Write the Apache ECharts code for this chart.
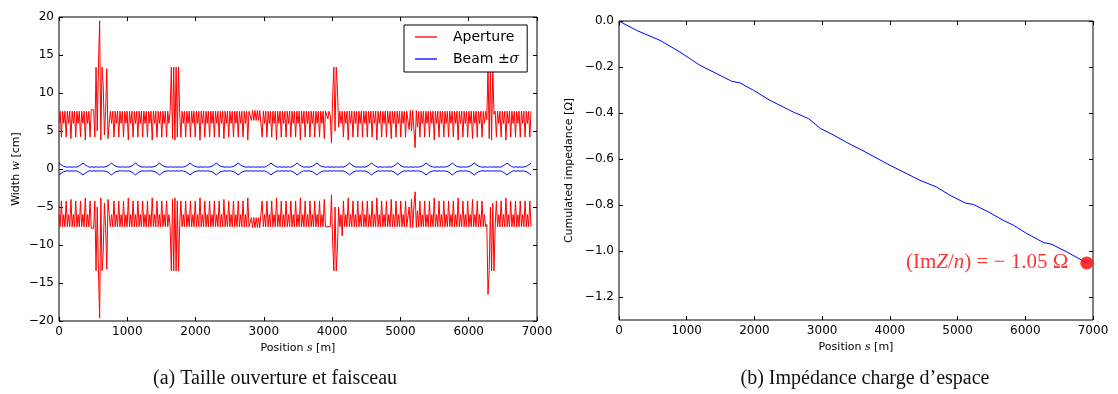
<!DOCTYPE html>
<html><head><meta charset="utf-8">
<script src="https://cdn.jsdelivr.net/npm/echarts@6/dist/echarts.min.js"></script>
<style>html,body{margin:0;padding:0;background:#fff}#c{width:1118px;height:394px}</style>
</head><body><div id="c"></div>
<script>
// ---------- data ----------
const apertureStep = 17.5; // m between aperture samples
const apertureUpper = [
  6.0,7.6,4.2,7.6, 6.0,7.6,4.2,7.6, 6.0,7.6,4.0,7.6, 6.0,7.6,4.2,7.6,
  6.0,7.6,4.2,7.6, 6.0,7.6,3.8,7.6, 6.0,7.6,4.2,7.8, 7.8,7.8,4.2,13.4,
  5.0,13.4,19.5,3.8, 13.4,11.0,4.5,7.6, 13.2,4.0,6.0,7.6, 6.0,7.6,4.2,7.6,
  6.0,7.6,4.2,7.6, 6.0,7.6,4.2,7.6, 6.0,7.6,3.8,7.6, 6.0,7.6,4.2,7.6,
  6.0,7.6,4.2,7.6, 6.0,7.6,4.2,7.6, 6.0,7.6,4.2,7.6, 6.0,7.6,3.8,7.6,
  6.0,7.6,4.2,7.6, 6.0,7.6,4.2,7.6, 6.0,7.6,4.2,7.6, 6.0,7.6,13.4,4.0,
  13.4,3.8,13.4,4.2, 13.4,7.4,4.2,7.6, 6.0,7.6,4.2,7.6, 6.0,7.6,4.2,7.6,
  6.0,7.6,4.2,7.6, 6.0,7.6,3.8,7.6, 6.0,7.6,4.2,7.6, 6.0,7.6,4.2,7.6,
  6.0,7.6,4.2,7.6, 6.0,7.6,4.2,7.6, 6.0,7.6,4.0,7.6, 6.0,7.6,4.2,7.6,
  6.0,7.6,4.2,7.6, 6.0,7.6,4.2,7.6, 6.0,7.6,4.2,7.6, 6.0,7.6,3.8,7.6,
  7.7,6.4,7.7,6.4, 7.7,6.4,7.7,6.4, 7.7,7.6,4.2,7.6, 6.0,7.6,4.2,7.6,
  6.0,7.6,4.2,7.6, 6.0,7.6,3.8,7.6, 6.0,7.6,4.2,7.6, 6.0,7.6,4.2,7.6,
  6.0,7.6,4.2,7.6, 6.0,7.6,4.2,7.6, 6.0,7.6,3.8,7.6, 6.0,7.6,4.2,7.6,
  6.0,7.6,4.2,7.6, 6.0,7.6,4.2,7.6, 6.0,7.6,4.2,7.6, 6.0,7.6,4.0,7.6,
  7.6,6.6,7.6,7.0, 3.4,9.5,13.4,5.0, 13.4,10.5,5.5,7.6, 6.0,7.6,4.2,7.6,
  6.0,7.6,3.8,7.6, 6.0,7.6,4.2,7.6, 6.0,7.6,4.2,7.6, 6.0,7.6,4.2,7.6,
  6.0,7.6,4.2,7.6, 6.0,7.6,4.2,7.6, 6.0,7.6,3.8,7.6, 6.0,7.6,4.2,7.6,
  6.0,7.6,4.2,7.6, 6.0,7.6,4.0,7.6, 6.0,7.6,4.2,7.6, 6.0,7.6,4.2,7.6,
  6.0,7.6,4.2,7.6, 7.7,5.2,7.7,5.0, 7.7,5.2,2.8,7.7, 5.5,7.6,4.2,7.6,
  6.0,7.6,4.2,7.6, 6.0,7.6,4.2,7.6, 6.0,7.6,3.8,7.6, 6.0,7.6,4.2,7.6,
  6.0,7.6,4.2,7.6, 6.0,7.6,4.2,7.6, 6.0,7.6,4.2,7.6, 6.0,7.6,3.8,7.6,
  6.0,7.6,4.2,7.6, 6.0,7.6,4.2,7.6, 6.0,7.6,4.0,7.6, 6.0,7.6,4.2,7.6,
  6.0,7.6,4.2,7.6, 6.0,7.6,6.5,13.4, 4.0,13.4,3.8,13.4, 7.2,7.6,4.2,7.6,
  6.0,7.6,4.2,7.6, 6.0,7.6,3.8,7.6, 6.0,7.6,4.2,7.6, 6.0,7.6,4.2,7.6,
  6.0,7.6,4.2,7.6, 6.0,7.6,4.2,7.6, 6.0,7.6,4.2,7.6
];
const apertureLower = [
  -6.0,-7.6,-4.2,-7.6, -6.0,-7.6,-4.2,-7.6, -6.0,-7.6,-4.0,-7.6, -6.0,-7.6,-4.2,-7.6,
  -6.0,-7.6,-4.2,-7.6, -6.0,-7.6,-3.8,-7.6, -6.0,-7.6,-4.2,-7.8, -7.8,-7.8,-4.2,-13.4,
  -5.0,-13.4,-19.6,-3.8, -13.4,-11.0,-4.5,-7.6, -13.2,-4.0,-6.0,-7.6, -6.0,-7.6,-4.2,-7.6,
  -6.0,-7.6,-4.2,-7.6, -6.0,-7.6,-4.2,-7.6, -6.0,-7.6,-3.8,-7.6, -6.0,-7.6,-4.2,-7.6,
  -6.0,-7.6,-4.2,-7.6, -6.0,-7.6,-4.2,-7.6, -6.0,-7.6,-4.2,-7.6, -6.0,-7.6,-3.8,-7.6,
  -6.0,-7.6,-4.2,-7.6, -6.0,-7.6,-4.2,-7.6, -6.0,-7.6,-4.2,-7.6, -6.0,-7.6,-13.4,-4.0,
  -13.4,-3.8,-13.4,-4.2, -13.4,-7.4,-4.2,-7.6, -6.0,-7.6,-4.2,-7.6, -6.0,-7.6,-4.2,-7.6,
  -6.0,-7.6,-4.2,-7.6, -6.0,-7.6,-3.8,-7.6, -6.0,-7.6,-4.2,-7.6, -6.0,-7.6,-4.2,-7.6,
  -6.0,-7.6,-4.2,-7.6, -6.0,-7.6,-4.2,-7.6, -6.0,-7.6,-4.0,-7.6, -6.0,-7.6,-4.2,-7.6,
  -6.0,-7.6,-4.2,-7.6, -6.0,-7.6,-4.2,-7.6, -6.0,-7.6,-4.2,-7.6, -6.0,-7.6,-3.8,-7.6,
  -7.7,-6.4,-7.7,-6.4, -7.7,-6.4,-7.7,-6.4, -7.7,-7.6,-4.2,-7.6, -6.0,-7.6,-4.2,-7.6,
  -6.0,-7.6,-4.2,-7.6, -6.0,-7.6,-3.8,-7.6, -6.0,-7.6,-4.2,-7.6, -6.0,-7.6,-4.2,-7.6,
  -6.0,-7.6,-4.2,-7.6, -6.0,-7.6,-4.2,-7.6, -6.0,-7.6,-3.8,-7.6, -6.0,-7.6,-4.2,-7.6,
  -6.0,-7.6,-4.2,-7.6, -6.0,-7.6,-4.2,-7.6, -6.0,-7.6,-4.2,-7.6, -6.0,-7.6,-4.0,-7.6,
  -7.6,-7.6,-7.6,-7.6, -3.4,-9.5,-13.4,-5.0, -13.4,-10.4,-5.0,-7.6, -6.0,-8.8,-4.2,-7.6,
  -6.0,-7.6,-3.8,-7.6, -6.0,-7.6,-4.2,-7.6, -6.0,-7.6,-4.2,-7.6, -6.0,-7.6,-4.2,-7.6,
  -6.0,-7.6,-4.2,-7.6, -6.0,-7.6,-4.2,-7.6, -6.0,-7.6,-3.8,-7.6, -6.0,-7.6,-4.2,-7.6,
  -6.0,-7.6,-4.2,-7.6, -6.0,-7.6,-4.0,-7.6, -6.0,-7.6,-4.2,-7.6, -6.0,-7.6,-4.2,-7.6,
  -6.0,-7.6,-4.2,-7.6, -7.7,-5.0,-7.7,-4.0, -7.7,-5.0,-3.0,-7.7, -5.5,-7.6,-4.2,-7.6,
  -6.0,-7.6,-4.2,-7.6, -6.0,-7.6,-4.2,-7.6, -6.0,-7.6,-3.8,-7.6, -6.0,-7.6,-4.2,-7.6,
  -6.0,-7.6,-4.2,-7.6, -6.0,-7.6,-4.2,-7.6, -6.0,-7.6,-4.2,-7.6, -6.0,-7.6,-3.8,-7.6,
  -6.0,-7.6,-4.2,-7.6, -6.0,-7.6,-4.2,-7.6, -6.0,-7.6,-4.0,-7.6, -6.0,-7.6,-4.2,-7.6,
  -6.0,-7.6,-4.2,-7.6, -6.0,-7.6,-7.3,-16.5, -13.4,-5.0,-13.4,-4.5, -13.4,-7.5,-4.2,-7.6,
  -6.0,-7.6,-4.2,-7.6, -6.0,-7.6,-3.8,-7.6, -6.0,-7.6,-4.2,-7.6, -6.0,-7.6,-4.2,-7.6,
  -6.0,-7.6,-4.2,-7.6, -6.0,-7.6,-4.2,-7.6, -6.0,-7.6,-4.2,-7.6
];
const beamStep = 32; // m between beam-size samples
const beamSigma = [
  0.78,0.55,0.36,0.28,0.24,0.28,0.24,0.28,0.24,0.36,0.55,0.78,0.55,0.36,0.24,0.28,
  0.24,0.28,0.24,0.28,0.24,0.28,0.36,0.55,0.78,0.55,0.36,0.28,0.24,0.28,0.24,0.28,
  0.24,0.36,0.55,0.78,0.55,0.36,0.24,0.28,0.24,0.28,0.24,0.28,0.36,0.55,0.78,0.55,
  0.36,0.28,0.24,0.28,0.24,0.28,0.24,0.28,0.24,0.28,0.36,0.55,0.78,0.55,0.36,0.28,
  0.24,0.28,0.24,0.28,0.24,0.28,0.36,0.55,0.78,0.55,0.36,0.28,0.24,0.28,0.24,0.28,
  0.36,0.55,0.78,0.55,0.36,0.28,0.24,0.28,0.24,0.28,0.24,0.28,0.24,0.28,0.24,0.36,
  0.55,0.78,0.55,0.36,0.24,0.28,0.24,0.28,0.24,0.28,0.24,0.36,0.55,0.78,0.55,0.36,
  0.24,0.28,0.24,0.28,0.36,0.55,0.78,0.55,0.36,0.28,0.24,0.28,0.24,0.28,0.24,0.28,
  0.24,0.28,0.24,0.36,0.55,0.78,0.55,0.36,0.24,0.28,0.24,0.28,0.24,0.36,0.55,0.78,
  0.55,0.36,0.24,0.28,0.24,0.28,0.24,0.28,0.24,0.36,0.55,0.78,0.55,0.36,0.24,0.28,
  0.24,0.28,0.24,0.28,0.24,0.28,0.36,0.55,0.78,0.55,0.36,0.28,0.24,0.28,0.24,0.28,
  0.24,0.28,0.36,0.55,0.78,0.55,0.36,0.28,0.24,0.28,0.24,0.28,0.36,0.55,0.78,0.55,
  0.36,0.28,0.24,0.28,0.24,0.28,0.24,0.28,0.24,0.28,0.24,0.36,0.55,0.78,0.55,0.36,
  0.24,0.28,0.24,0.28,0.24,0.28,0.36,0.55,0.78
];
const impedanceS = [0,261,605,901,1196,1443,1664,1787,1984,2230,2575,2797,2974,3170,3368,3565,4000,4446,4692,4889,5111,5234,5455,5677,5825,6022,6268,6391,6613,6835,6908];
const impedanceZ = [0,-0.041,-0.084,-0.135,-0.193,-0.229,-0.262,-0.269,-0.301,-0.345,-0.396,-0.424,-0.467,-0.496,-0.529,-0.558,-0.627,-0.693,-0.722,-0.758,-0.791,-0.798,-0.830,-0.867,-0.888,-0.924,-0.963,-0.971,-1.004,-1.040,-1.052];
const totalS = [6908];
const totalZ = [-1.052];
const rightYTicks = [-1.2,-1.0,-0.8,-0.6,-0.4,-0.2,0.0];

// ---------- chart ----------
const chart = echarts.init(document.getElementById('c'), null, {renderer: 'canvas'});
const BLACK = '#000';
const RED = '#ff0000';
const BLUE = '#0000ff';
const tickText = {fontFamily: 'DejaVu Sans', fontSize: 12, color: BLACK};
const nameRich = {
  a: {fontFamily: 'DejaVu Sans', fontSize: 11, color: BLACK},
  i: {fontFamily: 'DejaVu Serif', fontStyle: 'italic', fontSize: 11, color: BLACK}
};
const plainFmt = v => String(v);
const minusFmt = v => (v < 0 ? '\u2212' : '') + Math.abs(v);
const minusFmt1 = v => (v < -1e-9 ? '\u2212' : '') + Math.abs(v).toFixed(1);
const tick = {show: true, inside: true, length: 4, lineStyle: {color: BLACK, width: 1}};
const noLine = {show: false, onZero: false};

function xAxes(gridIndex, name) {
  return [
    {type: 'value', gridIndex, position: 'bottom', min: 0, max: 7000, interval: 1000,
     axisLine: noLine, axisTick: tick, splitLine: {show: false},
     axisLabel: Object.assign({margin: 5, formatter: plainFmt}, tickText),
     name, nameLocation: 'middle', nameGap: 20, nameTextStyle: {rich: nameRich}},
    {type: 'value', gridIndex, position: 'top', min: 0, max: 7000, interval: 1000,
     axisLine: noLine, axisTick: tick, splitLine: {show: false}, axisLabel: {show: false}}
  ];
}

const aperUpData = apertureUpper.map((w, i) => [i * apertureStep, w]);
const aperLoData = apertureLower.map((w, i) => [i * apertureStep, w]);
const beamUpData = beamSigma.map((w, i) => [i * beamStep, w]);
const beamLoData = beamSigma.map((w, i) => [i * beamStep, -w]);
const impData = impedanceS.map((s, i) => [s, impedanceZ[i]]);
const totalData = totalS.map((s, i) => [s, totalZ[i]]);

const lineBase = {type: 'line', symbol: 'none', showSymbol: false, animation: false, clip: true};

chart.setOption({
  backgroundColor: '#fff',
  animation: false,
  grid: [
    {left: 59, top: 17, width: 478, height: 304, show: true, borderColor: BLACK, borderWidth: 1, backgroundColor: 'transparent'},
    {left: 619, top: 21, width: 474, height: 299, show: true, borderColor: BLACK, borderWidth: 1, backgroundColor: 'transparent'}
  ],
  xAxis: [].concat(
    xAxes(0, '{a|Position }{i|s}{a| [m]}'),
    xAxes(1, '{a|Position }{i|s}{a| [m]}')
  ),
  yAxis: [
    {type: 'value', gridIndex: 0, position: 'left', min: -20, max: 20, interval: 5,
     axisLine: noLine, axisTick: tick, splitLine: {show: false},
     axisLabel: Object.assign({margin: 5, formatter: minusFmt}, tickText),
     name: '{a|Width }{i|w}{a| [cm]}', nameLocation: 'middle', nameGap: 37, nameTextStyle: {rich: nameRich}},
    {type: 'value', gridIndex: 0, position: 'right', min: -20, max: 20, interval: 5,
     axisLine: noLine, axisTick: tick, splitLine: {show: false}, axisLabel: {show: false}},
    {type: 'value', gridIndex: 1, position: 'left', min: -1.3, max: 0,
     axisLine: noLine, splitLine: {show: false},
     axisTick: Object.assign({customValues: rightYTicks}, tick),
     axisLabel: Object.assign({margin: 5, formatter: minusFmt1, customValues: rightYTicks}, tickText),
     name: '{a|Cumulated impedance [Ω]}', nameLocation: 'middle', nameGap: 44, nameTextStyle: {rich: nameRich}},
    {type: 'value', gridIndex: 1, position: 'right', min: -1.3, max: 0,
     axisLine: noLine, splitLine: {show: false},
     axisTick: Object.assign({customValues: rightYTicks}, tick), axisLabel: {show: false}}
  ],
  legend: {
    data: [{name: 'Aperture', icon: 'rect'}, {name: 'Beam', icon: 'rect'}],
    orient: 'vertical', left: 404, top: 25,
    padding: [4, 8, 5, 11], itemGap: 6, itemWidth: 22, itemHeight: 1.3,
    backgroundColor: '#fff', borderColor: BLACK, borderWidth: 1, borderRadius: 0,
    formatter: name => name === 'Beam' ? 'Beam \u00b1{s|σ}' : name,
    textStyle: {fontFamily: 'DejaVu Sans', fontSize: 14, color: BLACK, lineHeight: 16, padding: [0, 0, 0, 11],
      rich: {s: {fontFamily: 'DejaVu Serif', fontStyle: 'italic', fontSize: 14, color: BLACK, lineHeight: 16}}},
    selectedMode: false
  },
  series: [
    Object.assign({}, lineBase, {name: 'Beam', xAxisIndex: 0, yAxisIndex: 0, data: beamUpData, lineStyle: {color: BLUE, width: 1}, itemStyle: {color: BLUE}}),
    Object.assign({}, lineBase, {name: 'Beam', xAxisIndex: 0, yAxisIndex: 0, data: beamLoData, lineStyle: {color: BLUE, width: 1}, itemStyle: {color: BLUE}}),
    Object.assign({}, lineBase, {name: 'Aperture', xAxisIndex: 0, yAxisIndex: 0, data: aperUpData, lineStyle: {color: RED, width: 1}, itemStyle: {color: RED}}),
    Object.assign({}, lineBase, {name: 'Aperture', xAxisIndex: 0, yAxisIndex: 0, data: aperLoData, lineStyle: {color: RED, width: 1}, itemStyle: {color: RED}}),
    Object.assign({}, lineBase, {name: 'Impedance', xAxisIndex: 2, yAxisIndex: 2, data: impData, lineStyle: {color: BLUE, width: 1}, itemStyle: {color: BLUE}}),
    {type: 'scatter', name: 'Total', xAxisIndex: 2, yAxisIndex: 2, data: totalData, symbol: 'circle', symbolSize: 13,
     itemStyle: {color: RED}, animation: false, clip: false, z: 5,
     label: {show: true, position: 'left', distance: 12, color: RED,
       formatter: '{r|(Im}{z|Z}{r|/}{n|n}{r|) = \u2212 1.05 Ω}',
       rich: {
         r: {fontFamily: 'Liberation Serif', fontSize: 21, color: RED},
         z: {fontFamily: 'Liberation Serif', fontStyle: 'italic', fontSize: 21, color: RED},
         n: {fontFamily: 'Liberation Serif', fontStyle: 'italic', fontSize: 21, color: RED}
       }}}
  ],
  graphic: [
    {type: 'text', x: 275, y: 379, style: {text: '(a) Taille ouverture et faisceau', font: '20px "Liberation Serif"', fill: '#111', align: 'center', verticalAlign: 'middle', textAlign: 'center', textVerticalAlign: 'middle'}},
    {type: 'text', x: 865, y: 379, style: {text: '(b) Impédance charge d\u2019espace', font: '20px "Liberation Serif"', fill: '#111', align: 'center', verticalAlign: 'middle', textAlign: 'center', textVerticalAlign: 'middle'}}
  ]
});
</script>
</body></html>
